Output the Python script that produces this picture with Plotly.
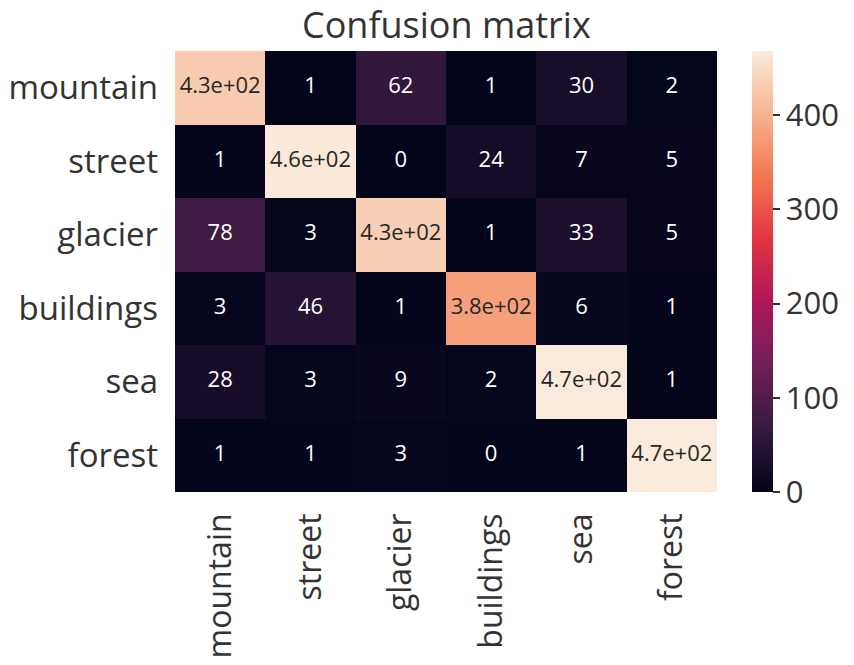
import plotly.graph_objects as go

classes = ["mountain", "street", "glacier", "buildings", "sea", "forest"]

row_mountain = [429, 1, 62, 1, 30, 2]
row_street = [1, 464, 0, 24, 7, 5]
row_glacier = [78, 3, 433, 1, 33, 5]
row_buildings = [3, 46, 1, 380, 6, 1]
row_sea = [28, 3, 9, 2, 467, 1]
row_forest = [1, 1, 3, 0, 1, 468]

matrix = [row_mountain, row_street, row_glacier, row_buildings, row_sea, row_forest]

cbar_ticks = [0, 100, 200, 300, 400]

rocket = [
    [0.0, "#03051a"],
    [1 / 7, "#35193e"],
    [2 / 7, "#701f57"],
    [3 / 7, "#ad1759"],
    [4 / 7, "#e13342"],
    [5 / 7, "#f37651"],
    [6 / 7, "#f6b48f"],
    [1.0, "#faebdd"],
]

zmax = max(max(r) for r in matrix)
FONT = "Open Sans"
n = len(classes)

fig = go.Figure()
fig.add_trace(go.Heatmap(
    z=matrix, x=classes, y=classes,
    colorscale=rocket, zmin=0, zmax=zmax,
    hoverinfo="skip",
    colorbar=dict(
        thickness=21, len=1, lenmode="fraction", y=0.5, yanchor="middle",
        x=1 + 35 / 542, xanchor="left", xpad=0, ypad=0,
        outlinewidth=0,
        tickvals=cbar_ticks, ticks="outside", ticklen=7, tickwidth=1.5,
        tickcolor="#333333", tickprefix="\u00a0",
        tickfont=dict(family=FONT, size=31, color="#333333"),
    ),
))

tx, ty, tt, tc = [], [], [], []
for i, row in enumerate(matrix):
    for j, v in enumerate(row):
        tx.append(classes[j])
        ty.append(classes[i])
        tt.append(format(v, ".2g"))
        tc.append("#262626" if v / zmax > 0.6 else "#ffffff")

fig.add_trace(go.Scatter(
    x=tx, y=ty, text=tt, mode="text",
    textfont=dict(family=FONT, size=22, color=tc),
    hoverinfo="skip", showlegend=False,
))

fig.update_xaxes(
    categoryorder="array", categoryarray=classes,
    range=[-0.5, n - 0.5],
    tickangle=-90, ticks="", showgrid=False, zeroline=False,
    tickfont=dict(family=FONT, size=32, color="#333333"),
    ticklabelstandoff=14,
)
fig.update_yaxes(
    categoryorder="array", categoryarray=classes,
    range=[n - 0.5, -0.5], ticks="", showgrid=False, zeroline=False,
    tickfont=dict(family=FONT, size=33, color="#333333"),
    ticklabelstandoff=16,
)

fig.add_annotation(
    text="Confusion matrix", xref="paper", yref="paper", x=0.5, y=1,
    xanchor="center", yanchor="bottom", yshift=0, showarrow=False,
    font=dict(family=FONT, size=36, color="#333333"),
)

fig.update_layout(
    width=854, height=665,
    margin=dict(l=175, r=137, t=51, b=173, autoexpand=False),
    paper_bgcolor="white", plot_bgcolor="white",
    showlegend=False,
)

fig.write_html(
    "out.html",
    config={"displayModeBar": False},
    post_script="document.body.style.margin='0px';document.body.style.overflow='hidden';",
)
